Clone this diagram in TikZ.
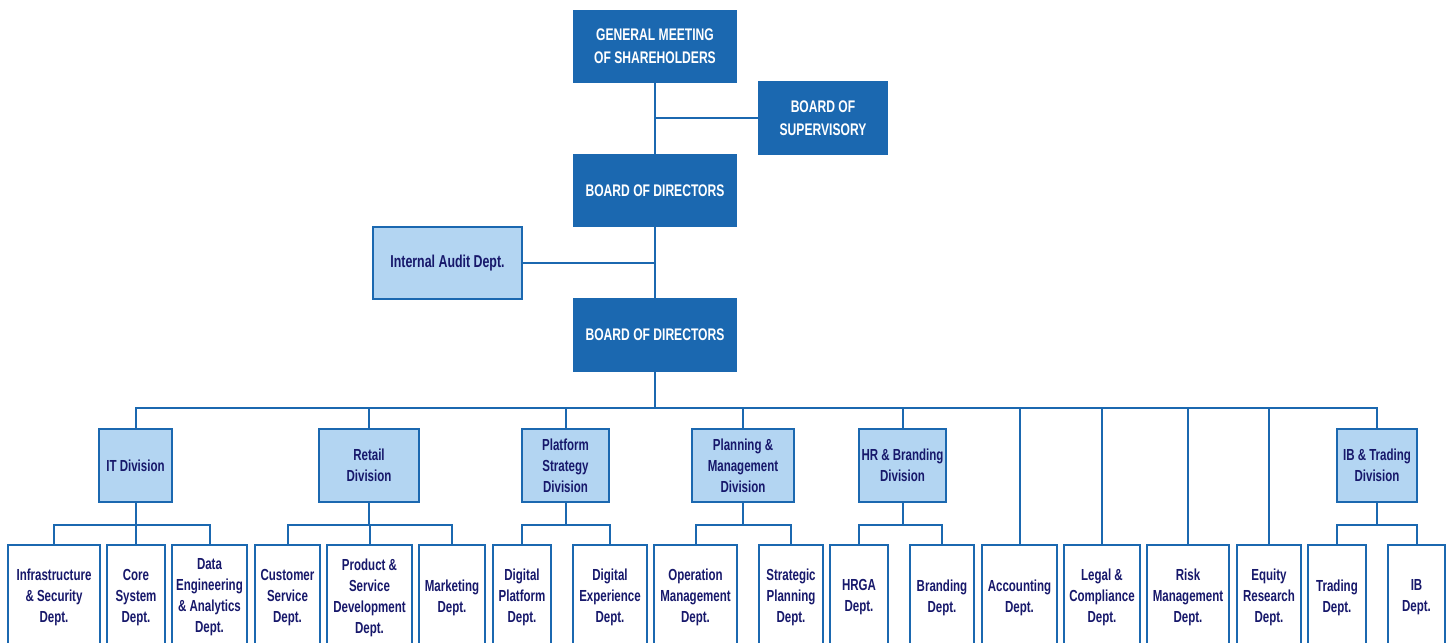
\documentclass[tikz,border=0pt]{standalone}
\usepackage{fontspec}
\setmainfont{Liberation Sans}[FakeStretch=0.72]
\definecolor{orgdark}{HTML}{1B68B0}
\definecolor{orglight}{HTML}{B3D5F2}
\definecolor{orgtext}{HTML}{17186B}
\begin{document}
\begin{tikzpicture}[x=0.5pt,y=-0.5pt,
	topbox/.style={fill=orgdark,text=white,font=\bfseries\fontsize{8.4}{11.5}\selectfont,align=center,inner sep=0pt},
	divbox/.style={draw=orgdark,line width=1pt,fill=orglight,text=orgtext,font=\bfseries\fontsize{8}{10.5}\selectfont,align=center,inner sep=0pt},
	deptbox/.style={draw=orgdark,line width=1pt,fill=white,text=orgtext,font=\bfseries\fontsize{8}{10.5}\selectfont,align=center,inner sep=0pt,minimum height=52.5pt},
	link/.style={draw=orgdark,line width=1pt}]
	\useasboundingbox (0,0) rectangle (1453,643);
	\node[topbox,minimum width=82pt,minimum height=36.5pt] (gm) at (655,46.5) {GENERAL MEETING\\OF SHAREHOLDERS};
	\node[topbox,minimum width=65pt,minimum height=37pt] (sup) at (823,118) {BOARD OF\\SUPERVISORY};
	\node[topbox,minimum width=82pt,minimum height=36.5pt] (bod) at (655,190.5) {BOARD OF DIRECTORS};
	\node[divbox,font=\bfseries\fontsize{8.6}{11}\selectfont,minimum width=74.5pt,minimum height=36pt] (ia) at (447.5,263) {Internal Audit Dept.};
	\node[topbox,minimum width=82pt,minimum height=37pt] (bod2) at (655,335) {BOARD OF DIRECTORS};
	\foreach \nm/\x/\w/\txt in {itdiv/135.5/73/{IT Division},retdiv/369/100/{Retail\\Division},
		platdiv/565.5/87/{Platform\\Strategy\\Division},plandiv/743/102/{Planning \&\\Management\\Division},
		hrdiv/902.5/87/{HR \& Branding\\Division},ibdiv/1377/80/{IB \& Trading\\Division}}
	\node[divbox,minimum width=\w*0.5pt,minimum height=36.5pt] (\nm) at (\x,465.5) {\txt};
	\foreach \nm/\x/\w/\txt in {infra/54/92/{Infrastructure\\\& Security\\Dept.},core/136/58/{Core\\System\\Dept.},
		data/209.5/75/{Data\\Engineering\\\& Analytics\\Dept.},cust/287.5/65/{Customer\\Service\\Dept.},
		prod/369.5/85/{Product \&\\Service\\Development\\Dept.},mkt/452/66/{Marketing\\Dept.},
		dplat/522/58/{Digital\\Platform\\Dept.},dexp/610/74/{Digital\\Experience\\Dept.},
		oper/695.5/83/{Operation\\Management\\Dept.},strat/791/64/{Strategic\\Planning\\Dept.},
		hrga/859/58/{HRGA\\Dept.},brand/942/64/{Branding\\Dept.},acct/1019.5/75/{Accounting\\Dept.},
		legal/1102/76/{Legal \&\\Compliance\\Dept.},risk/1188/82/{Risk\\Management\\Dept.},
		equity/1269/64/{Equity\\Research\\Dept.},trade/1337/58/{Trading\\Dept.},ib/1416.5/57/{IB\\Dept.}}
	\node[deptbox,minimum width=\w*0.5pt] (\nm) at (\x,597.5) {\txt};
	\draw[link] (gm) -- (bod);
	\draw[link] (sup.west) -- (sup.west -| gm.south);
	\draw[link] (bod) -- (bod2);
	\draw[link] (ia.east) -- (ia.east -| bod.south);
	\foreach \c in {itdiv,retdiv,platdiv,plandiv,hrdiv,acct,legal,risk,equity,ibdiv}
	\draw[link] (bod2.south) -- ++(0,36) -| (\c.north);
	\foreach \p/\c in {itdiv/infra,itdiv/core,itdiv/data,retdiv/cust,retdiv/prod,retdiv/mkt,
		platdiv/dplat,platdiv/dexp,plandiv/oper,plandiv/strat,hrdiv/hrga,hrdiv/brand,ibdiv/trade,ibdiv/ib}
	\draw[link] (\p.south) -- ++(0,22) -| (\c.north);
\end{tikzpicture}
\end{document}
